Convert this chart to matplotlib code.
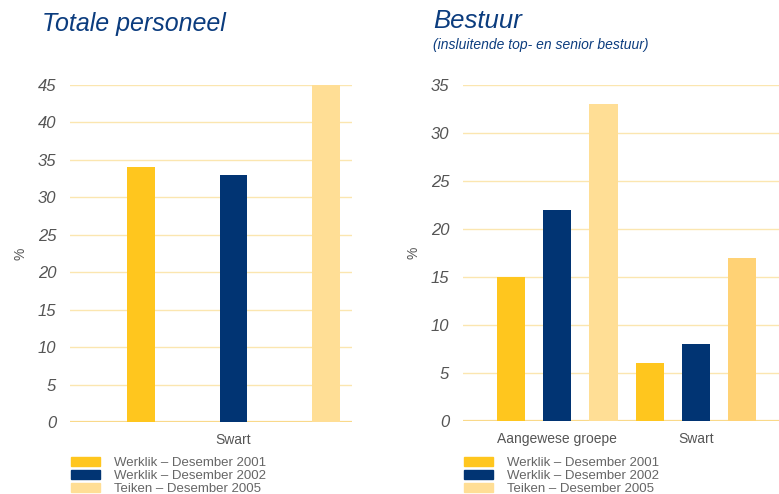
import matplotlib.pyplot as plt
import numpy as np

# ===========================
# Data
# ===========================

series_labels = ["Werklik \u2013 Desember 2001", "Werklik \u2013 Desember 2002", "Teiken \u2013 Desember 2005"]

totale_category = ["Swart"]
totale_values = [34, 33, 45]

bestuur_categories = ["Aangewese groepe", "Swart"]
bestuur_2001 = [15, 6]
bestuur_2002 = [22, 8]
bestuur_2005 = [33, 17]

# ===========================
# Styles
# ===========================

YELLOW = "#FFC61E"
NAVY = "#013473"
PALE = "#FFDE95"
PALE2 = "#FFD275"
GRID = "#FBE6B0"
TITLE = "#0B3C7E"
GREY = "#555555"

plt.rcParams["font.family"] = ["Liberation Sans", "DejaVu Sans"]

fig = plt.figure(figsize=(7.79, 4.94), dpi=100)


def style_axes(ax, ymax):
    ax.set_ylim(0, ymax)
    ax.set_yticks(np.arange(0, ymax + 1, 5))
    for side in ["top", "right", "left", "bottom"]:
        ax.spines[side].set_visible(False)
    ax.grid(axis="y", color=GRID, linewidth=1.0)
    ax.axhline(0, color="#F9D98A", linewidth=1.6, zorder=1)
    ax.set_axisbelow(True)
    ax.tick_params(axis="y", length=0, pad=10, labelsize=12, labelcolor=GREY)
    ax.tick_params(axis="x", length=0, pad=8, labelsize=10, labelcolor=GREY)
    for lab in ax.get_yticklabels():
        lab.set_fontstyle("italic")
    ax.set_ylabel("%", color=GREY, fontsize=10, labelpad=7)


# ===========================
# Left chart: Totale personeel
# ===========================

ax1 = fig.add_axes([70 / 779, 1 - 422 / 494, 282 / 779, 337 / 494])
x1 = np.array([-1, 0, 1])
ax1.bar(x1, totale_values, width=0.30, color=[YELLOW, NAVY, PALE], zorder=2)
ax1.set_xlim(-1.768, 1.28)
style_axes(ax1, 45)
ax1.set_xticks([0])
ax1.set_xticklabels(totale_category)

fig.text(42 / 779, 1 - 24 / 494, "Totale personeel", fontsize=18, style="italic",
         color=TITLE, va="center", ha="left")

# ===========================
# Right chart: Bestuur
# ===========================

ax2 = fig.add_axes([463 / 779, 1 - 421 / 494, 316 / 779, 336 / 494])
groups = np.array([0, 3])
ax2.bar(groups - 1, bestuur_2001, width=0.61, color=YELLOW, zorder=2)
ax2.bar(groups, bestuur_2002, width=0.61, color=NAVY, zorder=2)
ax2.bar(groups + 1, bestuur_2005, width=0.61, color=[PALE, PALE2], zorder=2)
ax2.set_xlim(-2.04, 4.8)
style_axes(ax2, 35)
ax2.set_xticks(groups)
ax2.set_xticklabels(bestuur_categories)

fig.text(433 / 779, 1 - 21 / 494, "Bestuur", fontsize=18.5, style="italic",
         color=TITLE, va="center", ha="left")
fig.text(433 / 779, 1 - 45 / 494, "(insluitende top- en senior bestuur)", fontsize=10,
         style="italic", color=TITLE, va="center", ha="left")

# ===========================
# Legends
# ===========================

handles = [plt.Rectangle((0, 0), 1, 1, color=c) for c in [YELLOW, NAVY, PALE]]
for x0 in [64 / 779, 457 / 779]:
    leg = fig.legend(handles, series_labels, loc="upper left",
                     bbox_to_anchor=(x0, 1 - 450 / 494), frameon=False,
                     fontsize=9.5, handlelength=2.2, handleheight=0.75,
                     labelspacing=0.05, handletextpad=1.1, borderpad=0)
    for t in leg.get_texts():
        t.set_color("#666666")

plt.savefig("out.png", dpi=100)
plt.close()
